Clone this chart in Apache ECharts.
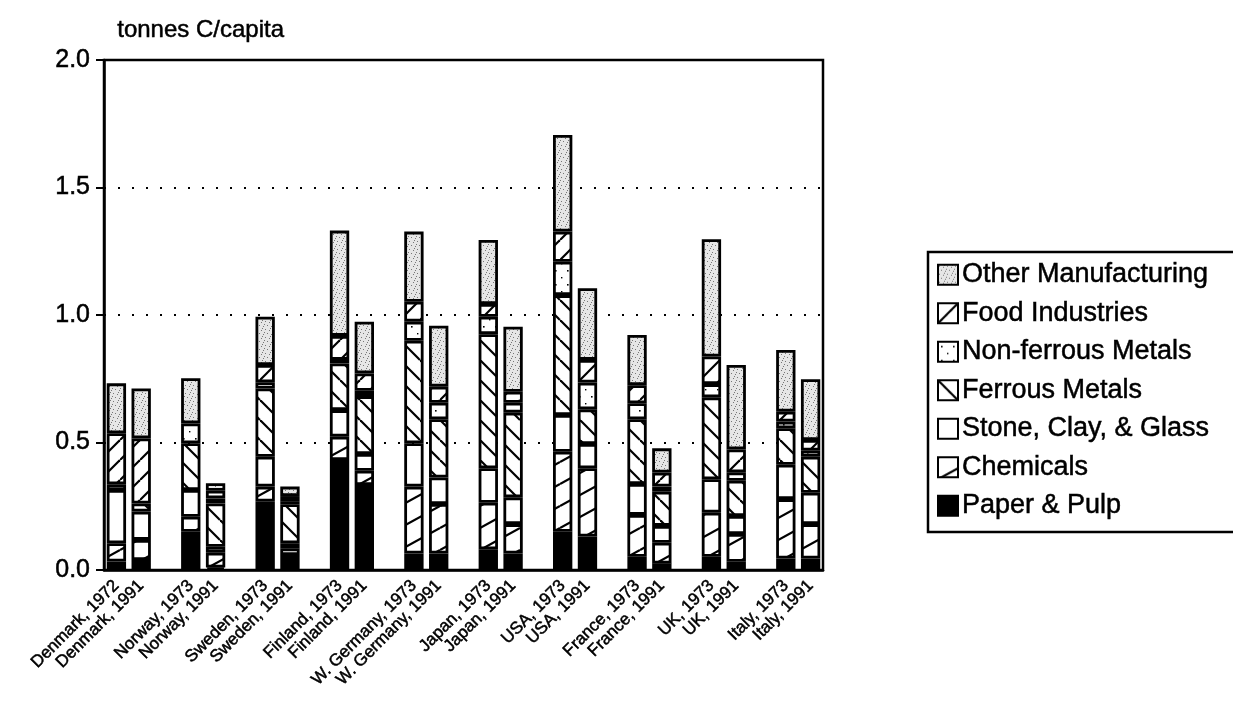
<!DOCTYPE html>
<html>
<head>
<meta charset="utf-8">
<script src="https://cdn.jsdelivr.net/npm/echarts@6/dist/echarts.min.js"></script>
<style>
  html, body { margin: 0; padding: 0; background: #fff; }
  #chart { width: 1233px; height: 726px; }
</style>
</head>
<body>
<div id="chart"></div>
<script>
// ---- data (tonnes C per capita) ----
const countries = ['Denmark', 'Norway', 'Sweden', 'Finland', 'W. Germany', 'Japan', 'USA', 'France', 'UK', 'Italy'];
const years = [['1972', '1991'], ['1973', '1991'], ['1973', '1991'], ['1973', '1991'], ['1973', '1991'],
               ['1973', '1991'], ['1973', '1991'], ['1973', '1991'], ['1973', '1991'], ['1973', '1991']];
const seriesNames = ['Paper & Pulp', 'Chemicals', 'Stone, Clay, & Glass', 'Ferrous Metals',
                     'Non-ferrous Metals', 'Food Industries', 'Other Manufacturing'];
// values per bar, in order: Denmark 1972, Denmark 1991, Norway 1973, Norway 1991, ...
const paperPulp   = [0.033, 0.039, 0.150, 0.010, 0.268, 0.059, 0.431, 0.333, 0.065, 0.065, 0.081, 0.065, 0.150, 0.131, 0.052, 0.025, 0.052, 0.032, 0.045, 0.045];
const chemicals   = [0.072, 0.079, 0.059, 0.058, 0.059, 0.026, 0.092, 0.056, 0.262, 0.194, 0.183, 0.115, 0.314, 0.268, 0.164, 0.082, 0.173, 0.109, 0.233, 0.135];
const stoneClay   = [0.209, 0.111, 0.105, 0.023, 0.117, 0.020, 0.104, 0.066, 0.170, 0.104, 0.135, 0.105, 0.144, 0.095, 0.121, 0.066, 0.131, 0.071, 0.135, 0.123];
const ferrous     = [0.022, 0.032, 0.183, 0.170, 0.268, 0.153, 0.183, 0.227, 0.402, 0.228, 0.526, 0.332, 0.470, 0.136, 0.254, 0.134, 0.321, 0.138, 0.143, 0.141];
const nonFerrous  = [0.000, 0.000, 0.078, 0.020, 0.024, 0.012, 0.014, 0.021, 0.075, 0.065, 0.068, 0.039, 0.131, 0.105, 0.063, 0.020, 0.052, 0.033, 0.026, 0.024];
const food        = [0.200, 0.255, 0.000, 0.030, 0.068, 0.020, 0.094, 0.068, 0.078, 0.063, 0.050, 0.043, 0.118, 0.089, 0.071, 0.055, 0.108, 0.090, 0.039, 0.042];
const otherManuf  = [0.196, 0.196, 0.177, 0.029, 0.189, 0.037, 0.413, 0.203, 0.275, 0.239, 0.251, 0.255, 0.379, 0.281, 0.197, 0.095, 0.460, 0.331, 0.242, 0.238];
const yTicks = [0, 0.5, 1.0, 1.5, 2.0];

// ---- build slots: two bars per country, one empty slot between countries ----
const slotLabels = [];
const slotIndex = []; // bar index or -1 for gap
countries.forEach((c, i) => {
  if (i > 0) { slotLabels.push(''); slotIndex.push(-1); }
  years[i].forEach((y, j) => { slotLabels.push(c + ', ' + y); slotIndex.push(i * 2 + j); });
});
function toSlots(arr) {
  return slotIndex.map(k => (k < 0 || !arr[k]) ? null : arr[k]);
}

// ---- pattern textures ----
function makeTile(w, h, draw) {
  const c = document.createElement('canvas');
  c.width = w; c.height = h;
  const g = c.getContext('2d');
  g.fillStyle = '#fff'; g.fillRect(0, 0, w, h);
  draw(g, w, h);
  return { image: c, repeat: 'repeat' };
}
function lines(g, segs, lw) {
  g.strokeStyle = '#000'; g.lineWidth = lw; g.lineCap = 'butt';
  segs.forEach(s => { g.beginPath(); g.moveTo(s[0], s[1]); g.lineTo(s[2], s[3]); g.stroke(); });
}
const patChem = makeTile(40, 22, (g, w, h) => {
  lines(g, [[0, h, w, 0], [0, 2 * h, w, h], [0, 0, w, -h]], 2.2);
});
const patFerrous = makeTile(20, 20, (g, w, h) => {
  lines(g, [[0, 0, w, h], [-w, 0, 0, h], [0, -h, w, 0]], 2.2);
});
const patFood = makeTile(20, 20, (g, w, h) => {
  lines(g, [[0, h, w, 0], [-w, h, 0, 0], [0, 2 * h, w, h]], 2.2);
});
const patNonFerrous = makeTile(12, 14, (g) => {
  g.fillStyle = '#000';
  g.fillRect(3, 4, 1.6, 1.6);
  g.fillRect(9, 11, 1.4, 1.4);
});
const patOther = makeTile(8, 8, (g) => {
  g.fillStyle = '#e6e6e6'; g.fillRect(0, 0, 8, 8);
  g.fillStyle = '#777';
  [[1, 1], [5, 2], [3, 5], [7, 6], [0, 4], [6, 0]].forEach(p => g.fillRect(p[0], p[1], 1, 1));
});
const fills = ['#000', patChem, '#fff', patFerrous, patNonFerrous, patFood, patOther];
const seriesData = [paperPulp, chemicals, stoneClay, ferrous, nonFerrous, food, otherManuf];

const font = 'Liberation Sans, Arial, Helvetica, sans-serif';
const heavy = { textBorderColor: '#000', textBorderWidth: 0.5 };
const chart = echarts.init(document.getElementById('chart'), null, { renderer: 'canvas' });

chart.setOption({
  animation: false,
  backgroundColor: '#fff',
  graphic: [
    { type: 'text', left: 117, top: 18, style: { text: 'tonnes C/capita', font: '24px ' + font, fill: '#000', stroke: '#000', lineWidth: 0.5 } },
    { type: 'rect', shape: { x: 928, y: 252, width: 330, height: 280 },
      style: { fill: 'none', stroke: '#000', lineWidth: 2.5 } }
  ],
  legend: {
    orient: 'vertical',
    left: 932, top: 256,
    itemWidth: 20, itemHeight: 20, itemGap: 11,
    icon: 'rect',
    selectedMode: false,
    data: seriesNames.slice().reverse(),
    textStyle: Object.assign({ fontFamily: font, fontSize: 27, color: '#000', padding: [0, 0, 0, -1] }, heavy)
  },
  grid: { left: 104, right: 410, top: 60, bottom: 156, show: true, borderColor: '#000', borderWidth: 2.5, backgroundColor: 'transparent' },
  xAxis: {
    type: 'category',
    data: slotLabels,
    axisLine: { lineStyle: { color: '#000', width: 2.5 } },
    axisTick: { alignWithLabel: true, interval: 0, length: 9, lineStyle: { color: '#000', width: 1.5 } },
    axisLabel: Object.assign({ interval: 0, rotate: 45, fontFamily: font, fontSize: 17, color: '#000', margin: 13 }, heavy)
  },
  yAxis: {
    type: 'value',
    min: yTicks[0], max: yTicks[yTicks.length - 1], interval: 0.5,
    axisLine: { show: true, lineStyle: { color: '#000', width: 2.5 } },
    axisTick: { show: true, length: 8, lineStyle: { color: '#000', width: 2 } },
    axisLabel: Object.assign({ formatter: v => v.toFixed(1), fontFamily: font, fontSize: 25, color: '#000', margin: 14 }, heavy),
    splitLine: { show: true, lineStyle: { color: '#000', width: 2, type: [2, 12] } }
  },
  series: seriesNames.map((name, i) => ({
    name: name,
    type: 'bar',
    stack: 'total',
    barWidth: '78%',
    data: toSlots(seriesData[i]),
    itemStyle: { color: fills[i], borderColor: '#000', borderWidth: 2.8 }
  }))
});
</script>
</body>
</html>
